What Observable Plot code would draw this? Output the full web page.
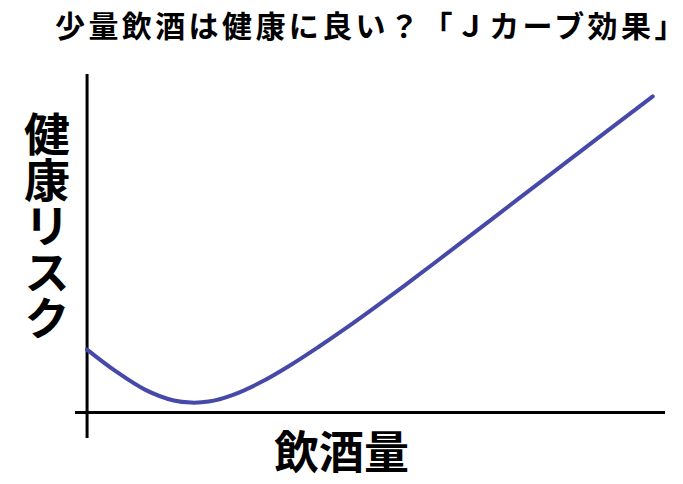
<!DOCTYPE html>
<html><head><meta charset="utf-8">
<script src="https://cdn.jsdelivr.net/npm/d3@7"></script>
<script src="https://cdn.jsdelivr.net/npm/@observablehq/plot@0.6"></script>
<style>
body{margin:0;background:#fff;}
#wrap{position:relative;width:683px;height:484px;font-family:"Noto Sans CJK JP",sans-serif;font-weight:700;color:#000;}
#chart{position:absolute;left:0;top:0;}
#title{position:absolute;left:55px;top:9px;font-size:30px;line-height:30px;letter-spacing:3.4px;white-space:nowrap;}
#title .last{letter-spacing:0;}
#ylab{position:absolute;left:24px;top:111px;font-size:46px;line-height:46px;writing-mode:vertical-rl;text-orientation:upright;}
#xlab{position:absolute;left:0;width:683px;top:427px;font-size:45px;line-height:45px;text-align:center;}
</style>
</head><body>
<div id="wrap">
  <div id="chart"></div>
  <div id="title"></div>
  <div id="ylab"></div>
  <div id="xlab"></div>
</div>
<script>
const titleText = "少量飲酒は健康に良い？「Ｊカーブ効果」";
const yLabel = "健康リスク";
const xLabel = "飲酒量";
const drinking = [0, 5, 10, 15, 18, 21, 25, 30, 35, 40, 45, 50, 55, 60, 70, 80, 90, 97.8];
const risk = [12.1, 7.9, 4.4, 2.3, 1.9, 2.1, 3.3, 5.8, 9.0, 12.6, 16.4, 20.4, 24.5, 28.7, 37.2, 45.7, 54.2, 60.8];

const data = drinking.map((d, i) => ({drinking: d, risk: risk[i]}));

const t = document.getElementById("title");
t.appendChild(document.createTextNode(titleText.slice(0, -1)));
const last = document.createElement("span");
last.className = "last";
last.textContent = titleText.slice(-1);
t.appendChild(last);
document.getElementById("ylab").textContent = yLabel;
document.getElementById("xlab").textContent = xLabel;

const chart = Plot.plot({
  width: 683,
  height: 484,
  marginLeft: 75,
  marginRight: 18,
  marginTop: 74,
  marginBottom: 46,
  x: {domain: [-2, 100], axis: null},
  y: {domain: [-5, 65], axis: null},
  style: {background: "#fff"},
  marks: [
    Plot.ruleY([0], {stroke: "#000", strokeWidth: 3}),
    Plot.ruleX([0], {stroke: "#000", strokeWidth: 3}),
    Plot.line(data, {x: "drinking", y: "risk", curve: "catmull-rom", stroke: "#4649a8", strokeWidth: 4, strokeLinecap: "round"})
  ]
});
document.getElementById("chart").appendChild(chart);
</script>
</body></html>
